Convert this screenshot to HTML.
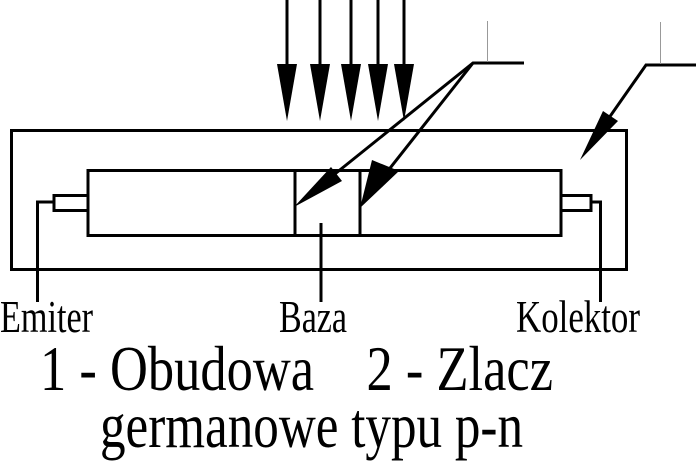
<!DOCTYPE html>
<html><head><style>html,body{margin:0;padding:0;background:#fff;}svg{display:block}</style></head>
<body>
<svg width="696" height="464" viewBox="0 0 696 464" xmlns="http://www.w3.org/2000/svg">
<g stroke="#000" stroke-width="3" fill="none">
<rect x="11.5" y="130.5" width="615" height="139"/>
<rect x="88" y="170.5" width="473" height="65"/>
<line x1="295" y1="170" x2="295" y2="236"/>
<line x1="360" y1="170" x2="360" y2="236"/>
<rect x="54" y="195.5" width="34" height="15"/>
<polyline points="54,202 37.5,202 37.5,302"/>
<rect x="561" y="195.5" width="30" height="15"/>
<polyline points="591,202 600.5,202 600.5,302"/>
<line x1="321" y1="223" x2="321" y2="302"/>
<line x1="287" y1="0" x2="287" y2="70"/>
<line x1="320" y1="0" x2="320" y2="70"/>
<line x1="351" y1="0" x2="351" y2="70"/>
<line x1="378" y1="0" x2="378" y2="70"/>
<line x1="404" y1="0" x2="404" y2="70"/>
<polyline points="524,63 473,63 305,198"/>
<line x1="473" y1="63" x2="368" y2="196"/>
<polyline points="696,65 646,65 590,145"/>
</g>
<g stroke="#999" stroke-width="1"><line x1="487.5" y1="21" x2="487.5" y2="62"/><line x1="660.5" y1="22" x2="660.5" y2="64"/></g>
<g fill="#000">
<polygon points="277,64 297,64 287,121"/>
<polygon points="310,64 330,64 320,121"/>
<polygon points="341,64 361,64 351,121"/>
<polygon points="368,64 388,64 378,121"/>
<polygon points="394,64 414,64 404,121"/>
<polygon points="294,207 331,167 342,181"/>
<polygon points="360,208 372,160 399,171"/>
<polygon points="580,160 603,111 618,121"/>
</g>
<g font-family="'Liberation Serif',serif" fill="#000">
<text x="0" y="332" font-size="45" textLength="93" lengthAdjust="spacingAndGlyphs">Emiter</text>
<text x="279" y="332" font-size="45" textLength="68" lengthAdjust="spacingAndGlyphs">Baza</text>
<text x="516" y="332" font-size="45" textLength="124" lengthAdjust="spacingAndGlyphs">Kolektor</text>
<text x="40" y="390" font-size="64" textLength="513" lengthAdjust="spacingAndGlyphs" xml:space="preserve">1 - Obudowa    2 - Zlacz</text>
<text x="100" y="447" font-size="64" textLength="423" lengthAdjust="spacingAndGlyphs">germanowe typu p-n</text>
</g>
</svg>
</body></html>
